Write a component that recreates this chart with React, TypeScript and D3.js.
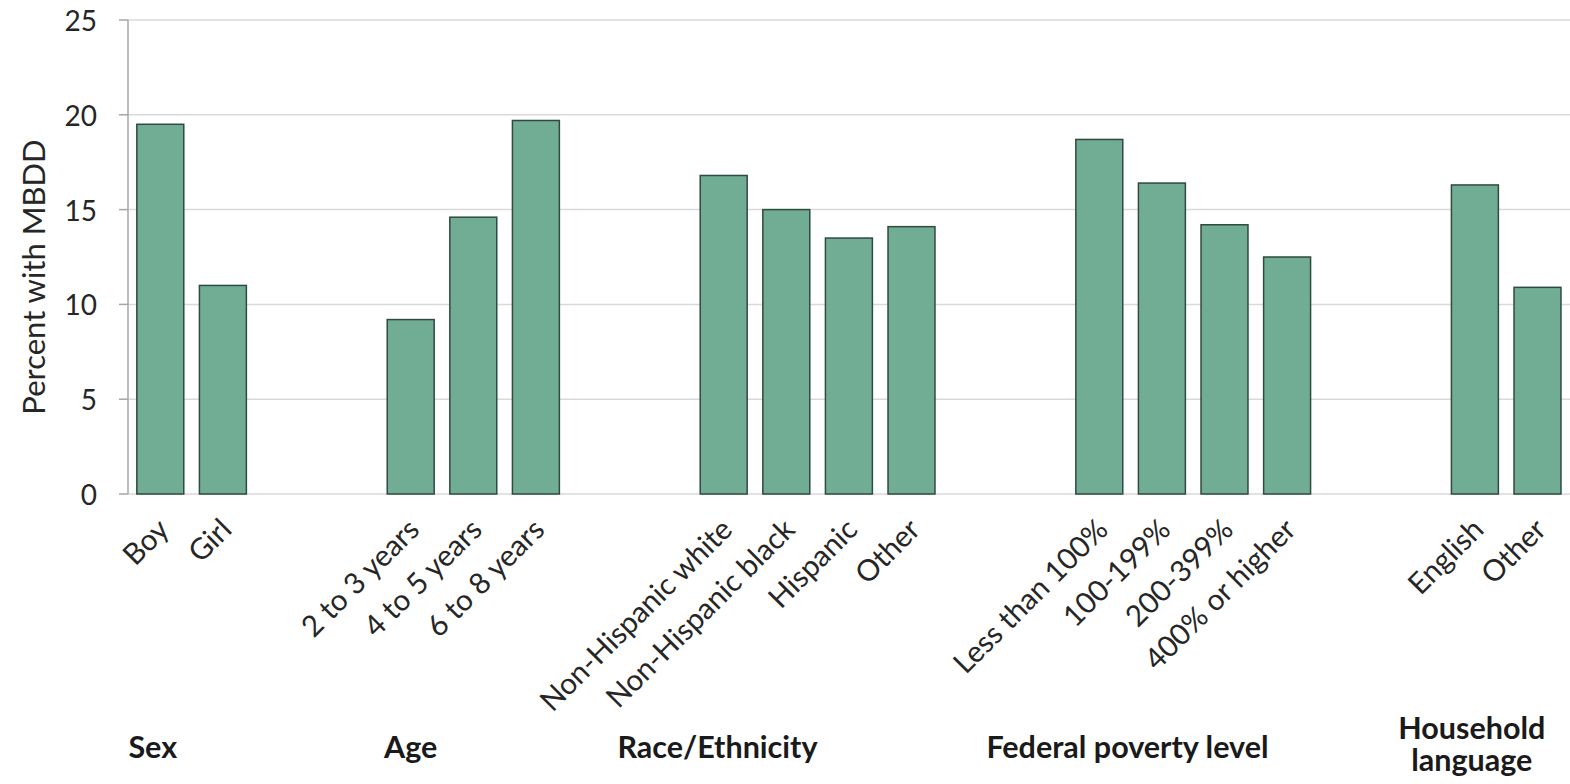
import React from "react";
import * as d3 from "d3";

const groupNames = ["Sex", "Age", "Race/Ethnicity", "Federal poverty level", "Household language"];
const sexLabels = ["Boy", "Girl"];
const sexValues = [19.5, 11.0];
const ageLabels = ["2 to 3 years", "4 to 5 years", "6 to 8 years"];
const ageValues = [9.2, 14.6, 19.7];
const raceLabels = ["Non-Hispanic white", "Non-Hispanic black", "Hispanic", "Other"];
const raceValues = [16.8, 15.0, 13.5, 14.1];
const povertyLabels = ["Less than 100%", "100-199%", "200-399%", "400% or higher"];
const povertyValues = [18.7, 16.4, 14.2, 12.5];
const languageLabels = ["English", "Other"];
const languageValues = [16.3, 10.9];
const yTicks = [0, 5, 10, 15, 20, 25];
const yTitle = "Percent with MBDD";

const groupLabelSets = [sexLabels, ageLabels, raceLabels, povertyLabels, languageLabels];
const groupValueSets = [sexValues, ageValues, raceValues, povertyValues, languageValues];
// horizontal offset of each group title, in slot steps, relative to the first bar of the group
const groupTitleOffsets = [-0.12, 0, -0.1, 0.45, -0.05];

const W = 1570;
const H = 784;
const FONT = "Lato, 'Open Sans', sans-serif";
const FILL = "#70ad94";
const STROKE = "#2f4a41";

type Item = { key: string; label: string; value: number; group: number };

export default function App() {
  const items: Item[] = [];
  const slotKeys: string[] = [];
  groupLabelSets.forEach((labels, gi) => {
    if (gi > 0) {
      slotKeys.push(`gap-${gi}-a`, `gap-${gi}-b`);
    }
    labels.forEach((label, i) => {
      const key = `${gi}-${i}`;
      slotKeys.push(key);
      items.push({ key, label, value: groupValueSets[gi][i], group: gi });
    });
  });

  const plotLeft = 128;
  const x = d3
    .scaleBand<string>()
    .domain(slotKeys)
    .range([plotLeft + 1, plotLeft + 1 + slotKeys.length * 62.6])
    .paddingInner(0.25)
    .paddingOuter(0.125);
  const y = d3.scaleLinear().domain([0, 25]).range([494, 20]);
  const bw = x.bandwidth();
  const step = x.step();

  return (
    <svg
      width={W}
      height={H}
      style={{ position: "absolute", left: 0, top: 0, background: "#fff" }}
      fontFamily={FONT}
    >
      <rect x={0} y={0} width={W} height={H} fill="#fff" />
      {/* gridlines */}
      {yTicks.map((t) => (
        <line
          key={`g${t}`}
          x1={plotLeft}
          x2={W}
          y1={y(t)}
          y2={y(t)}
          stroke="#d9d9d9"
          strokeWidth={1.5}
        />
      ))}
      {/* y axis */}
      <line x1={plotLeft} x2={plotLeft} y1={y(25)} y2={y(0)} stroke="#a6a6a6" strokeWidth={1.5} />
      {yTicks.map((t) => (
        <g key={`t${t}`}>
          <line x1={plotLeft - 9} x2={plotLeft} y1={y(t)} y2={y(t)} stroke="#a6a6a6" strokeWidth={1.5} />
          <text
            x={97}
            y={y(t)}
            textAnchor="end"
            dominantBaseline="central"
            fontSize={28}
            fill="#262626"
          >
            {t}
          </text>
        </g>
      ))}
      <text
        transform={`translate(33, ${(y(0) + y(25)) / 2 + 20}) rotate(-90)`}
        textAnchor="middle"
        dominantBaseline="central"
        fontSize={31}
        fill="#262626"
      >
        {yTitle}
      </text>
      {/* bars */}
      {items.map((d) => (
        <rect
          key={d.key}
          x={x(d.key)!}
          y={y(d.value)}
          width={bw}
          height={y(0) - y(d.value)}
          fill={FILL}
          stroke={STROKE}
          strokeWidth={1.5}
        />
      ))}
      {/* category labels */}
      {items.map((d) => {
        const cx = x(d.key)! + bw / 2;
        return (
          <text
            key={`l${d.key}`}
            transform={`translate(${cx - 6}, 515) rotate(-45)`}
            textAnchor="end"
            dominantBaseline="hanging"
            fontSize={29.5}
            fill="#262626"
          >
            {d.label}
          </text>
        );
      })}
      {/* group titles */}
      {groupNames.map((g, gi) => {
        const firstKey = `${gi}-0`;
        const gx = x(firstKey)! + bw / 2 + groupTitleOffsets[gi] * step;
        const words = g === "Household language" ? ["Household", "language"] : [g];
        return (
          <text
            key={`gt${gi}`}
            x={gx}
            y={words.length > 1 ? 739 : 758}
            textAnchor="middle"
            fontSize={30.5}
            fontWeight="bold"
            fill="#1a1a1a"
          >
            {words.map((w, wi) => (
              <tspan key={wi} x={gx} dy={wi === 0 ? 0 : 32}>
                {w}
              </tspan>
            ))}
          </text>
        );
      })}
    </svg>
  );
}
